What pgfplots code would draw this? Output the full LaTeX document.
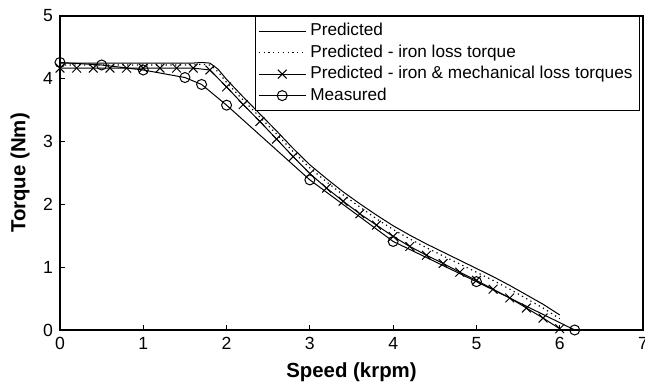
\documentclass[border=0pt]{standalone}
\usepackage{fontspec}
\setmainfont{Liberation Sans}
\usepackage{pgfplots}
\pgfplotsset{compat=1.18}
\begin{document}
\begin{tikzpicture}
\begin{axis}[
  name=ax,
  width=291.5pt, height=157pt, scale only axis,
  xmin=0, xmax=7, ymin=0, ymax=5,
  xtick={0,1,2,3,4,5,6,7}, ytick={0,1,2,3,4,5},
  tick pos=left, tick align=inside, major tick length=2.5pt,
  /pgf/number format/assume math mode=true,
  ticklabel style={font=\fontsize{8.8}{10}\selectfont},
  xlabel={Speed (krpm)}, ylabel={Torque (Nm)},
  every axis x label/.style={at={(axis description cs:0.5,-0.1338)}, anchor=center,
    font=\fontsize{10.2}{12}\selectfont\bfseries},
  every axis y label/.style={at={(axis description cs:-0.0686,0.5)}, anchor=center, rotate=90,
    font=\fontsize{10.2}{12}\selectfont\bfseries},
  axis line style={line width=0.6pt},
  every tick/.style={black, line width=0.5pt},
  clip=false,
  legend style={at={(1,1)}, xshift=-1.5pt, anchor=north east, draw=black, line width=0.5pt,
    font=\fontsize{8.6}{10}\selectfont, inner sep=1.5pt, row sep=-1pt,
    cells={anchor=west}},
  legend image code/.code={\draw[mark repeat=2,mark phase=2,#1] plot coordinates {(0pt,0pt) (11.75pt,0pt) (23.5pt,0pt)};},
]
% Predicted
\addplot[black, line width=0.5pt, mark=none] coordinates {
(0,4.25) (0.4,4.25) (0.8,4.25) (1.2,4.25) (1.6,4.25) (1.7,4.26) (1.8,4.25) (1.9,4.15)
(2.0,3.99) (2.2,3.71) (2.4,3.44) (2.6,3.17) (2.8,2.89) (3.0,2.63) (3.2,2.41) (3.4,2.20)
(3.6,2.01) (3.8,1.83) (4.0,1.66) (4.2,1.51) (4.4,1.37) (4.6,1.24) (4.8,1.11) (5.0,0.98)
(5.2,0.85) (5.4,0.71) (5.6,0.56) (5.8,0.41) (6.0,0.24)};
\addlegendentry{Predicted}
% Predicted - iron loss torque
\addplot[black, line width=0.6pt, dash pattern=on 0.6pt off 1.8pt, mark=none] coordinates {
(0,4.22) (0.4,4.22) (0.8,4.22) (1.2,4.22) (1.6,4.22) (1.7,4.23) (1.8,4.22) (1.9,4.11)
(2.0,3.94) (2.2,3.66) (2.4,3.39) (2.6,3.12) (2.8,2.84) (3.0,2.58) (3.2,2.36) (3.4,2.15)
(3.6,1.96) (3.8,1.77) (4.0,1.60) (4.2,1.45) (4.4,1.31) (4.6,1.18) (4.8,1.05) (5.0,0.92)
(5.2,0.79) (5.4,0.65) (5.6,0.50) (5.8,0.35) (6.0,0.18)};
\addlegendentry{Predicted - iron loss torque}
% Predicted - iron & mechanical loss torques
\addplot[black, line width=0.5pt, mark=x, mark size=3.1pt, mark options={solid}] coordinates {
(0,4.17) (0.2,4.17) (0.4,4.17) (0.6,4.17) (0.8,4.17) (1.0,4.17) (1.2,4.17) (1.4,4.17)
(1.6,4.17) (1.8,4.14) (2.0,3.87) (2.2,3.59) (2.4,3.32) (2.6,3.04) (2.8,2.76) (3.0,2.49)
(3.2,2.26) (3.4,2.05) (3.6,1.85) (3.8,1.67) (4.0,1.49) (4.2,1.33) (4.4,1.19) (4.6,1.06)
(4.8,0.92) (5.0,0.79) (5.2,0.65) (5.4,0.51) (5.6,0.35) (5.8,0.19) (6.0,0.02)};
\addlegendentry{Predicted - iron \& mechanical loss torques}
% Measured
\addplot[black, line width=0.5pt, mark=o, mark size=2.5pt] coordinates {
(0,4.26) (0.5,4.22) (1.0,4.14) (1.5,4.02) (1.7,3.91) (2.0,3.58) (3.0,2.39) (4.0,1.41)
(5.0,0.77) (6.18,0)};
\addlegendentry{Measured}
\end{axis}
\pgfresetboundingbox
\path[use as bounding box] ([shift={(-30pt,-26.5pt)}]ax.south west) rectangle ([shift={(1pt,8pt)}]ax.north east);
\end{tikzpicture}
\end{document}
